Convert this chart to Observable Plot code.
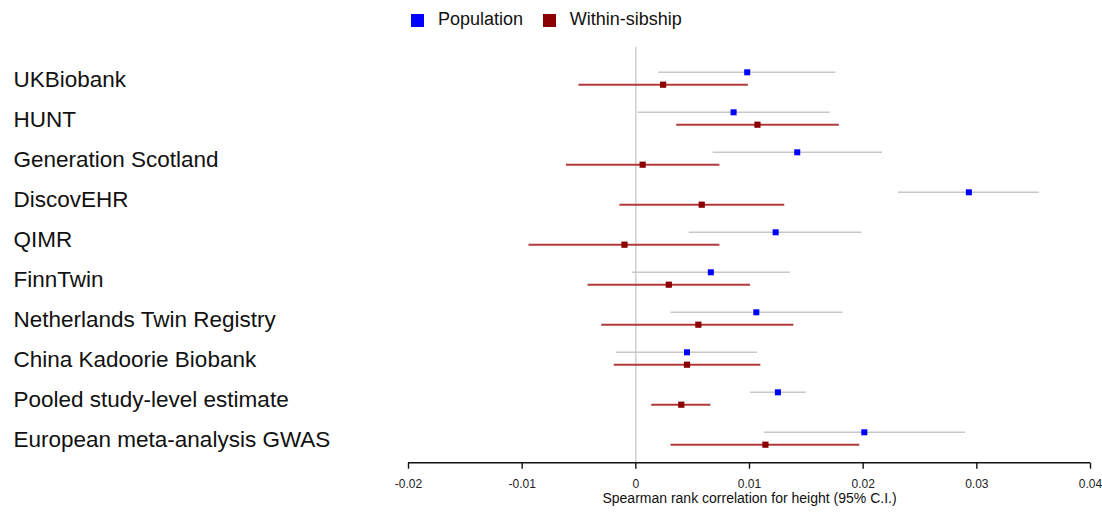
<!DOCTYPE html>
<html>
<head>
<meta charset="utf-8">
<script src="https://cdn.jsdelivr.net/npm/d3@7"></script>
<script src="https://cdn.jsdelivr.net/npm/@observablehq/plot@0.6"></script>
<style>
  html, body { margin: 0; padding: 0; background: #fff; }
  body { width: 1102px; height: 512px; overflow: hidden; font-family: "Liberation Sans", Arial, Helvetica, sans-serif; }
  #legend { position: relative; height: 38px; }
  .lg-item { position: absolute; top: 0; height: 38px; display: flex; align-items: center; font-size: 18px; color: #111; }
  .lg-sw { width: 13px; height: 13px; margin-right: 14px; margin-top: 3px; }
  #chart svg { display: block; }
</style>
</head>
<body>
<div id="legend"></div>
<div id="chart"></div>
<script>
// ---- data ----
const studies = [
  "UKBiobank",
  "HUNT",
  "Generation Scotland",
  "DiscovEHR",
  "QIMR",
  "FinnTwin",
  "Netherlands Twin Registry",
  "China Kadoorie Biobank",
  "Pooled study-level estimate",
  "European meta-analysis GWAS"
];
const seriesNames = ["Population", "Within-sibship"];
const popEst = [0.0098, 0.0086, 0.0142, 0.0293, 0.0123, 0.0066, 0.0106, 0.0045, 0.0125, 0.0201];
const popLo  = [0.0020, 0.0002, 0.0068, 0.0231, 0.0047, -0.0003, 0.0031, -0.0017, 0.0101, 0.0113];
const popHi  = [0.0176, 0.0171, 0.0217, 0.0355, 0.0199, 0.0136, 0.0182, 0.0107, 0.0150, 0.0290];
const sibEst = [0.0024, 0.0107, 0.0006, 0.0058, -0.0010, 0.0029, 0.0055, 0.0045, 0.0040, 0.0114];
const sibLo  = [-0.0050, 0.0036, -0.0061, -0.0014, -0.0094, -0.0042, -0.0030, -0.0019, 0.0014, 0.0031];
const sibHi  = [0.0099, 0.0179, 0.0074, 0.0131, 0.0074, 0.0101, 0.0139, 0.0110, 0.0066, 0.0197];
const xTicks = [-0.02, -0.01, 0, 0.01, 0.02, 0.03, 0.04];
const xTickLabels = ["-0.02", "-0.01", "0", "0.01", "0.02", "0.03", "0.04"];
const xTitle = "Spearman rank correlation for height (95% C.I.)";

// ---- styles ----
const popPoint = "#0000ff", sibPoint = "#8b0000";
const popLine = "#c8c8c8", sibLine = "#b03a3a";

const pop = studies.map((s, i) => ({study: s, est: popEst[i], lo: popLo[i], hi: popHi[i]}));
const sib = studies.map((s, i) => ({study: s, est: sibEst[i], lo: sibLo[i], hi: sibHi[i]}));

// legend
const legend = document.getElementById("legend");
const legendPos = [411, 542.7];
[popPoint, sibPoint].forEach((c, i) => {
  const item = document.createElement("div");
  item.className = "lg-item";
  item.style.left = legendPos[i] + "px";
  const sw = document.createElement("span");
  sw.className = "lg-sw";
  sw.style.background = c;
  item.appendChild(sw);
  item.appendChild(document.createTextNode(seriesNames[i]));
  legend.appendChild(item);
});

const W = 1102, H = 474;
const mL = 408, mR = 12, mT = 9, mB = 49.3;
const off = 6.2;

const axisLine = (index, scales, values, dims) => {
  const g = d3.create("svg:g");
  const y = dims.height - dims.marginBottom;
  g.append("line")
    .attr("x1", scales.x(xTicks[0])).attr("x2", scales.x(xTicks[xTicks.length - 1]))
    .attr("y1", y).attr("y2", y)
    .attr("stroke", "#111").attr("stroke-width", 1.6);
  return g.node();
};

const chart = Plot.plot({
  width: W,
  height: H,
  marginLeft: mL,
  marginRight: mR,
  marginTop: mT,
  marginBottom: mB,
  style: {fontFamily: "'Liberation Sans', Arial, Helvetica, sans-serif", fontSize: "12px", background: "#fff"},
  x: {domain: [xTicks[0], xTicks[xTicks.length - 1]]},
  y: {type: "point", domain: studies, range: [36.5, 403.85], padding: 0, axis: null},
  marks: [
    Plot.ruleX([0], {stroke: "#cfcfcf", strokeWidth: 1.5}),
    Plot.ruleY(pop, {y: "study", x1: "lo", x2: "hi", dy: -off, stroke: popLine, strokeWidth: 1.5}),
    Plot.ruleY(sib, {y: "study", x1: "lo", x2: "hi", dy: off, stroke: sibLine, strokeWidth: 2}),
    Plot.dot(pop, {x: "est", y: "study", dy: -off, symbol: "square", r: 3.4, fill: popPoint, stroke: "none"}),
    Plot.dot(sib, {x: "est", y: "study", dy: off, symbol: "square", r: 3.5, fill: sibPoint, stroke: "none"}),
    Plot.text(studies, {y: Plot.identity, text: Plot.identity, frameAnchor: "left", textAnchor: "start",
      dx: 13 - mL, dy: 1.5, fontSize: 22.5, fill: "#111"}),
    axisLine,
    Plot.axisX({ticks: xTicks, tickSize: 6, tickPadding: 10, fontSize: 12, stroke: "#111", strokeWidth: 1.4,
      tickFormat: (d) => xTickLabels[xTicks.indexOf(d)], label: null, fill: "#222"}),
    Plot.text([xTitle], {text: Plot.identity, frameAnchor: "bottom", lineAnchor: "middle", dy: 35.5, fontSize: 14, fill: "#111"})
  ]
});
document.getElementById("chart").appendChild(chart);
</script>
</body>
</html>
